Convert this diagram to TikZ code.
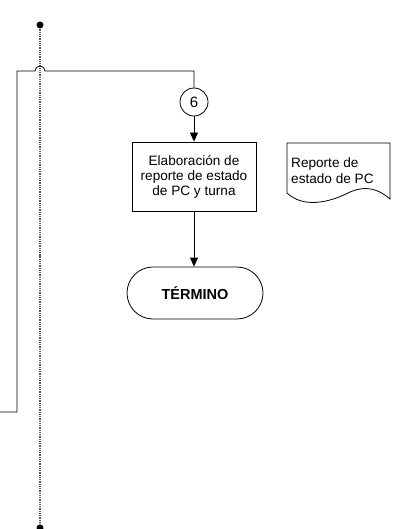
\documentclass[tikz,border=0pt]{standalone}
\usepackage{fontspec}
\setmainfont{Liberation Sans}
\usetikzlibrary{arrows.meta}
\begin{document}
\begin{tikzpicture}[x=1pt,y=-1pt,
  line/.style={draw=black, line width=0.8pt},
  arr/.style={line, -{Triangle[length=9pt,width=8pt]}},
  procbox/.style={draw=black, line width=0.8pt, minimum width=124pt, minimum height=69pt,
    align=center, inner sep=0pt, font=\fontsize{13.6}{15}\selectfont},
  termbox/.style={draw=black, line width=0.8pt, minimum width=136pt, minimum height=52pt,
    rounded corners=26pt, font=\fontsize{14.5}{17}\selectfont\bfseries},
  conn/.style={draw=black, line width=0.8pt, circle, minimum size=28pt, inner sep=0pt,
    font=\fontsize{15}{17}\selectfont},
  dotline/.style={draw=black!65, line width=1.2pt, dash pattern=on 1pt off 0.8pt},
  enddot/.style={circle, fill=black, inner sep=0pt, minimum size=7pt},
  doctext/.style={align=left, inner sep=0pt, anchor=north west, font=\fontsize{13.6}{16.5}\selectfont}
]
\useasboundingbox (0,0) rectangle (392,529);

% dotted time line
\node[enddot] (top) at (40,25) {};
\node[enddot] (bot) at (40,528) {};
\draw[dotline] (top) -- (bot);

% nodes
\node[conn] (c6) at (194,102) {6};
\node[procbox] (proc) at (194,176.5) {Elaboración de\\reporte de estado\\de PC y turna};
\node[termbox] (term) at (195,293) {TÉRMINO};

% incoming connector with hop
\coordinate (in0) at (0,412);
\coordinate (k1) at (17,412);
\coordinate (k2) at (17,71);
\coordinate (h1) at (35,71);
\draw[line] (in0) -- (k1) -- (k2) -- (h1)
  arc[start angle=180, end angle=0, radius=5pt] -- (c6.north |- k2) -- (c6.north);

\draw[arr] (c6) -- (proc);
\draw[arr] (proc.south) -- (proc.south |- term.north);

% document shape
\draw[line] (287,193) .. controls (303,208) and (328,203) .. (348,193)
  .. controls (366,184) and (380,190) .. (390,199) -- (390,143) -- (287,143) -- cycle;
\node[doctext] (doc) at (291,157) {Reporte de\\estado de PC};
\end{tikzpicture}
\end{document}
